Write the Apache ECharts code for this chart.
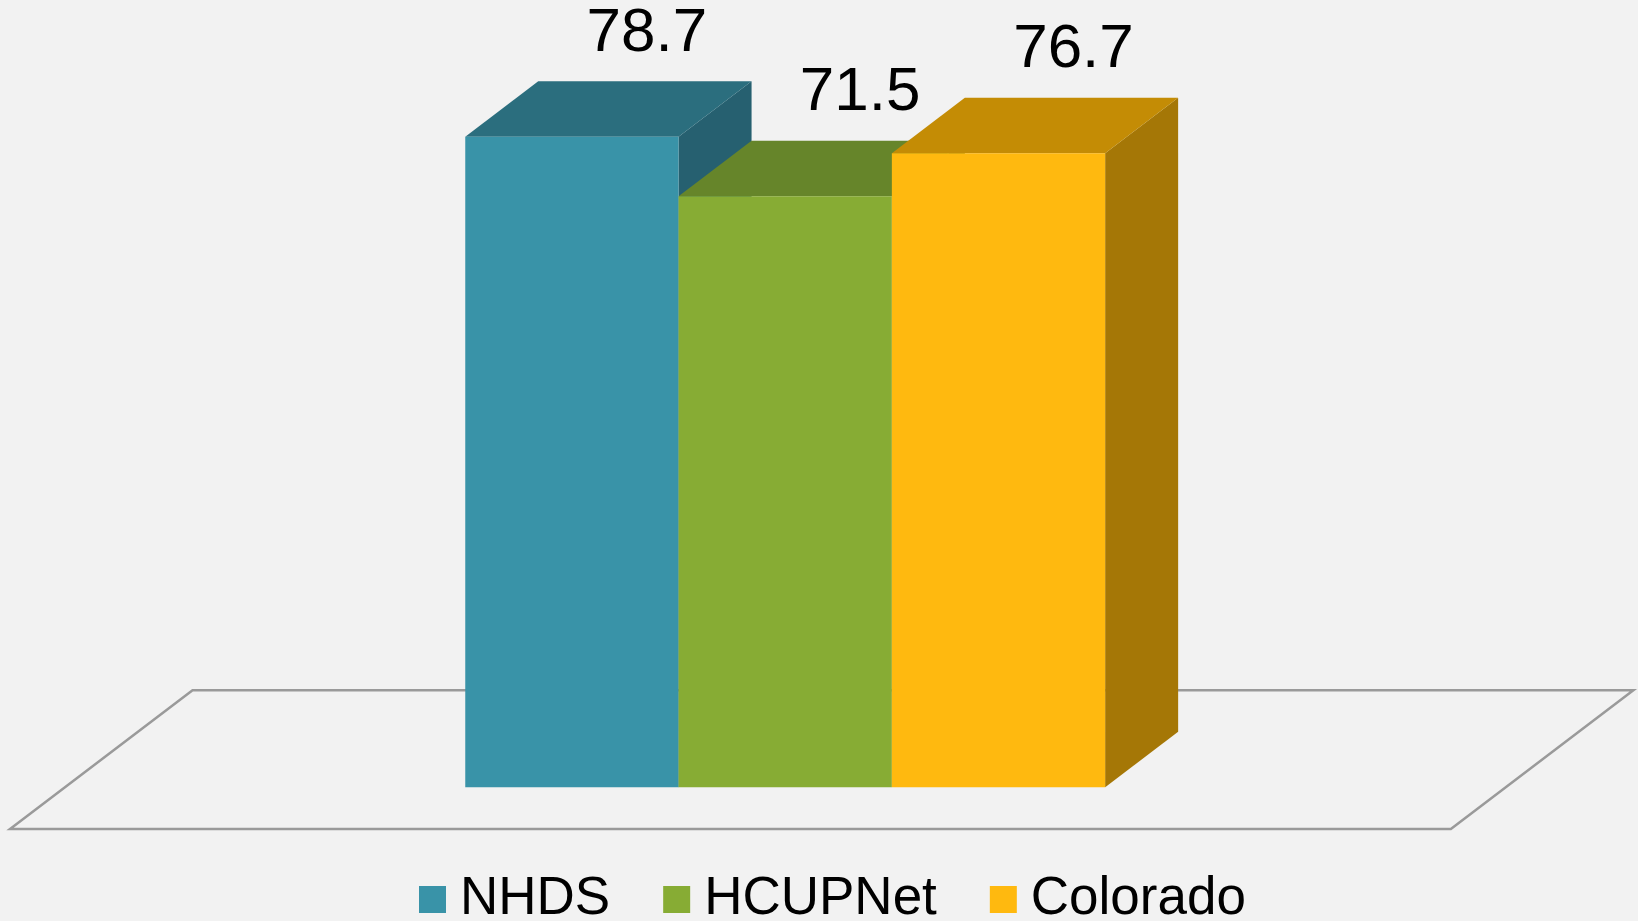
<!DOCTYPE html>
<html>
<head>
<meta charset="utf-8">
<script src="https://cdn.jsdelivr.net/npm/echarts@6/dist/echarts.min.js"></script>
<style>
  html, body { margin: 0; padding: 0; background: #f2f2f2; }
  #chart { width: 1638px; height: 921px; }
</style>
</head>
<body>
<div id="chart"></div>
<script>
// ---- data ----
const categories = [''];
const seriesNames = ['NHDS', 'HCUPNet', 'Colorado'];
const nhdsValues = [78.7];
const hcupnetValues = [71.5];
const coloradoValues = [76.7];

// ---- styling ----
const FONT = "'Liberation Sans', Arial, sans-serif";
const colors = {
  NHDS:     { front: '#3993a8', top: '#2b6e7e', side: '#266070' },
  HCUPNet:  { front: '#87ac34', top: '#66852a', side: '#587525' },
  Colorado: { front: '#ffb90f', top: '#c48c05', side: '#a57706' }
};
const DEPTH = [73, -55.5];       // bar depth projection in px
const BAR_FRAC = 0.14804;        // bar width as fraction of category band
const FLOOR_DEPTH = 2.5;         // floor depth in bar depths
const FLOOR_FRONT = 0.75;        // floor front edge in front of bars (bar depths)
const LABEL_DX = 2, LABEL_DY = -47.5;

const valuesByName = { NHDS: nhdsValues, HCUPNet: hcupnetValues, Colorado: coloradoValues };

function barRender(params, api) {
  const slot = seriesNames.indexOf(params.seriesName);
  const c = colors[params.seriesName];
  const base = api.coord([api.value(0), 0]);
  const topP = api.coord([api.value(0), api.value(1)]);
  const band = api.size([1, 0])[0];
  const w = band * BAR_FRAC;
  const x0 = base[0] - 1.5 * w + slot * w;
  const x1 = x0 + w;
  const yb = base[1], yt = topP[1];
  const dx = DEPTH[0], dy = DEPTH[1];
  return {
    type: 'group',
    children: [
      { type: 'polygon', shape: { points: [[x1, yt], [x1 + dx, yt + dy], [x1 + dx, yb + dy], [x1, yb]] },
        style: { fill: c.side } },
      { type: 'polygon', shape: { points: [[x0, yt], [x0 + dx, yt + dy], [x1 + dx, yt + dy], [x1, yt]] },
        style: { fill: c.top } },
      { type: 'rect', shape: { x: x0, y: yt, width: w, height: yb - yt },
        style: { fill: c.front } },
      { type: 'text',
        style: { text: String(api.value(1)), x: (x0 + x1) / 2 + dx + LABEL_DX, y: yt + dy + LABEL_DY,
                 align: 'center', verticalAlign: 'middle',
                 fontSize: 62, fontFamily: FONT, fill: '#000' } }
    ]
  };
}

function floorRender(params, api) {
  const cs = params.coordSys;
  const y0 = cs.y + cs.height;
  const fx = -FLOOR_FRONT * DEPTH[0], fy = -FLOOR_FRONT * DEPTH[1];
  const bx = FLOOR_DEPTH * DEPTH[0], by = FLOOR_DEPTH * DEPTH[1];
  const fl = [cs.x + fx, y0 + fy];
  const fr = [cs.x + cs.width + fx, y0 + fy];
  return {
    type: 'polygon',
    shape: { points: [fl, fr, [fr[0] + bx, fr[1] + by], [fl[0] + bx, fl[1] + by]] },
    style: { fill: '#f2f2f2', stroke: '#9a9a9a', lineWidth: 2.5 }
  };
}

const chart = echarts.init(document.getElementById('chart'), null, { renderer: 'canvas' });

const series = [{
  type: 'custom', name: 'floor', silent: true, z: 1,
  renderItem: floorRender, data: [[0, 0]], encode: { x: 0, y: 1 }
}];
seriesNames.forEach(function (n) {
  series.push({
    type: 'custom', name: n, z: 2,
    itemStyle: { color: colors[n].front },
    renderItem: barRender,
    encode: { x: 0, y: 1 },
    data: valuesByName[n].map(function (v, i) { return [i, v]; })
  });
});

chart.setOption({
  backgroundColor: '#f2f2f2',
  animation: false,
  grid: { left: 64.8, right: 132.4, top: 43.3, bottom: 133.7 },
  xAxis: { type: 'category', data: categories, show: false },
  yAxis: { type: 'value', min: 0, max: 90, show: false },
  legend: {
    data: seriesNames,
    left: 414, top: 868, padding: 5,
    icon: 'rect', itemWidth: 27, itemHeight: 27, itemGap: 53,
    textStyle: { fontFamily: FONT, fontSize: 53, lineHeight: 53, color: '#000', padding: [0, 0, 0, 9] }
  },
  series: series
});
</script>
</body>
</html>
